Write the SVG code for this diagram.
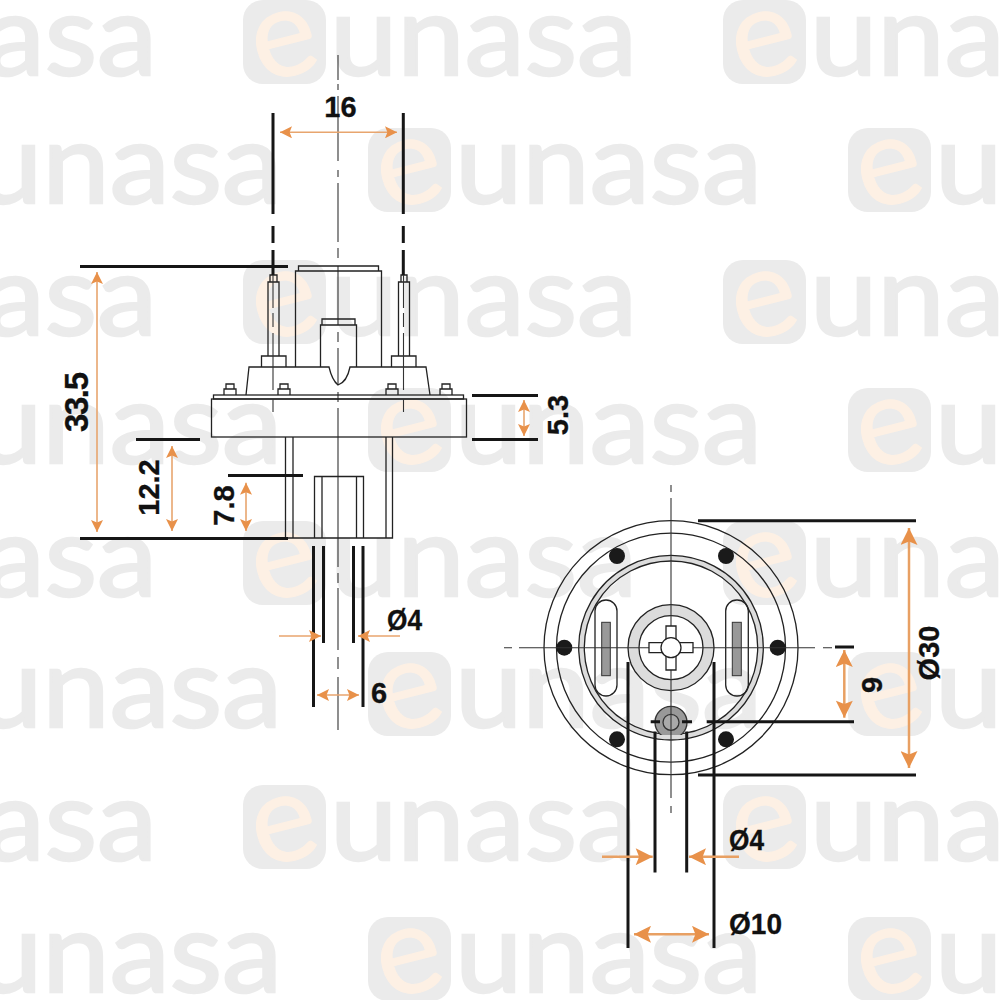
<svg xmlns="http://www.w3.org/2000/svg" xmlns:xlink="http://www.w3.org/1999/xlink" width="1000" height="1000" viewBox="0 0 1000 1000">
<style>
.wm{font-family:"Lato","Liberation Sans",sans-serif;font-size:112px;font-weight:400;fill:#ebebeb;stroke:#ebebeb;stroke-width:2.5}
.we{font-family:"Lato","Liberation Sans",sans-serif;font-size:124px;font-weight:400;fill:#fdf0e4;stroke:#fdf0e4;stroke-width:1}
.t{fill:none;stroke:#222;stroke-width:1.3}
.th{fill:none;stroke:#161616;stroke-width:3}
.c{fill:none;stroke:#333;stroke-width:1.1}
.or{fill:none;stroke:#e8a56e;stroke-width:1.6}
.orb{fill:none;stroke:#e8a063;stroke-width:2.5}
.l{font-family:"Liberation Sans",Arial,sans-serif;font-size:29px;font-weight:700;fill:#111;stroke:#111;stroke-width:.3}
</style>
<defs>
<marker id="a" viewBox="0 0 10 10" refX="10" refY="5" markerWidth="14" markerHeight="12" markerUnits="userSpaceOnUse" orient="auto-start-reverse"><path d="M0 0L10 5L0 10L2 5Z" fill="#e8914a"/></marker>
<marker id="b" viewBox="0 0 10 10" refX="10" refY="5" markerWidth="18" markerHeight="17" markerUnits="userSpaceOnUse" orient="auto-start-reverse"><path d="M0 0L10 5L0 10L2 5Z" fill="#e8914a"/></marker>
<g id="wm"><rect x="0" y="0" width="83" height="84" rx="20" fill="#ebebeb"/><text class="we" x="41" y="76" text-anchor="middle" transform="rotate(-14 41 42)">e</text><text class="wm" x="87" y="75" textLength="307" lengthAdjust="spacingAndGlyphs">unasa</text></g>
<clipPath id="hubclip"><rect x="640" y="690" width="62" height="45"/></clipPath>
</defs>
<rect width="1000" height="1000" fill="#fff"/>
<g id="watermark">
<use xlink:href="#wm" x="-237" y="0"/><use xlink:href="#wm" x="243" y="0"/><use xlink:href="#wm" x="723" y="0"/>
<use xlink:href="#wm" x="-112" y="128"/><use xlink:href="#wm" x="368" y="128"/><use xlink:href="#wm" x="848" y="128"/>
<use xlink:href="#wm" x="-237" y="260"/><use xlink:href="#wm" x="243" y="260"/><use xlink:href="#wm" x="723" y="260"/>
<use xlink:href="#wm" x="-112" y="388"/><use xlink:href="#wm" x="368" y="388"/><use xlink:href="#wm" x="848" y="388"/>
<use xlink:href="#wm" x="-237" y="521"/><use xlink:href="#wm" x="243" y="521"/><use xlink:href="#wm" x="723" y="521"/>
<use xlink:href="#wm" x="-112" y="652"/><use xlink:href="#wm" x="368" y="652"/><use xlink:href="#wm" x="848" y="652"/>
<use xlink:href="#wm" x="-237" y="785"/><use xlink:href="#wm" x="243" y="785"/><use xlink:href="#wm" x="723" y="785"/>
<use xlink:href="#wm" x="-112" y="917"/><use xlink:href="#wm" x="368" y="917"/><use xlink:href="#wm" x="848" y="917"/>
</g>
<g id="side-view">
<path class="c" d="M338 55V80M338 84V90M338 96V161M338 170V177M338 183V242M338 248V258M338 266V325M338 332V342M338 348V385M338 392V402M338 408V567M338 573V583M338 588V650M338 657V669M338 677V730"/>
<rect class="t" x="211.500" y="399" width="255" height="38"/>
<rect class="t" x="213.500" y="395" width="250" height="4"/>
<path class="t" d="M246 395L249 367H329Q332 380 338 385Q347 382 350 367H426L430 395"/>
<path class="t" d="M295.500 367V271H381.500V367M298.500 271V266H378.500V271"/>
<path class="t" d="M320.500 367V325H356.500V367M322 325V319H355V325"/>
<path class="t" d="M268 356V282H279V356M270 282V275H277V282M261.500 367V356H286V367"/>
<path class="t" d="M398.500 356V282H409.500V356M401 282V275H407V282M391.500 367V356H416V367"/>
<path class="t" d="M224 395V389H236V395M226 389V384H234V389M278 395V389H290V395M280 389V384H288V389M386 395V389H398V395M388 389V384H396V389M440 395V389H452V395M442 389V384H450V389"/>
<path class="t" d="M285.500 437V538H392.500V437M293 437V538M386 437V538"/>
<path class="t" d="M314.500 538V476.500H363.500V538M322 476.500V538M356.500 476.500V538"/>
<path class="c" d="M273 275V308M273 313V327M273 333V390M273 399V412M403.500 275V308M403.500 313V327M403.500 333V390M403.500 399V412"/>
</g>
<g id="front-view">
<circle class="t" cx="671" cy="647.700" r="127"/>
<circle class="t" cx="671" cy="647.700" r="114.500"/>
<path d="M671 555.400a92.300 92.300 0 1 0 .01 0ZM671 561a86.700 86.700 0 1 1 -.01 0Z" fill="#dcdcdc" fill-rule="evenodd" stroke="#222" stroke-width="1.300"/>
<rect class="t" x="595" y="600" width="22" height="96" rx="11"/>
<rect class="t" x="725.700" y="600" width="22.600" height="96" rx="11"/>
<rect x="601.700" y="622.300" width="8.600" height="53.400" fill="#999" stroke="#333"/>
<rect x="732.300" y="622.300" width="9" height="53.400" fill="#999" stroke="#333"/>
<circle cx="671" cy="647.700" r="43" fill="#dcdcdc" stroke="#222" stroke-width="1.300"/>
<circle cx="671" cy="647.700" r="32" fill="#fff" stroke="#222" stroke-width="1.300"/>
<g clip-path="url(#hubclip)"><circle cx="671" cy="722.300" r="16" fill="#999" stroke="#333" stroke-width="1.300"/><circle cx="671" cy="722.300" r="8" fill="#aaa" stroke="#333" stroke-width="1.300"/></g>
<g fill="#1a1a1a"><circle cx="564.300" cy="647.700" r="8"/><circle cx="777.700" cy="647.700" r="8"/><circle cx="617" cy="556" r="8"/><circle cx="726" cy="556" r="8"/><circle cx="617" cy="739.300" r="8"/><circle cx="726" cy="739.300" r="8"/></g>
<path class="c" d="M671 485V492M671 498V798M671 806V813"/>
<path class="c" d="M504 647.700H512M519 647.700H815M823 647.700H832"/>
<path d="M666 626H676V642.700H693V652.700H676V670H666V652.700H649V642.700H666Z" fill="#fff" stroke="#222" stroke-width="1.300"/>
<circle cx="671" cy="647.700" r="10" fill="#fff" stroke="#222" stroke-width="1.300"/>
</g>
<g id="connectors">
<path class="th" d="M273 113V214M273 226V243M273 250V275M403.300 113V214M403.300 226V243M403.300 250V275"/>
<path class="th" d="M80 266.500H288M80 538.500H288M136 439.500H200M228 475.500H303M472 395.500H538M472 439.500H538"/>
<path class="th" d="M313.500 546V707M323.500 546V643M353.500 546V643M363 546V707"/>
<path class="th" d="M628 662V948M714 662V948M655 731.500V872.500M686.700 731.500V872.500"/>
<path class="th" d="M698 520.700H916M698 775H916M706.700 721.700H854M650.700 721.700H660M682 721.700H692M835 647H854"/>
<path class="or" marker-start="url(#a)" marker-end="url(#a)" d="M280 132.300H397"/>
<path class="or" marker-start="url(#a)" marker-end="url(#a)" d="M97 272V532"/>
<path class="or" marker-start="url(#a)" marker-end="url(#a)" d="M172 446V531"/>
<path class="or" marker-start="url(#a)" marker-end="url(#a)" d="M246 482.700V531"/>
<path class="or" marker-start="url(#a)" marker-end="url(#a)" d="M524 400V436"/>
<path class="or" marker-end="url(#a)" d="M279 636H321"/>
<path class="or" marker-end="url(#a)" d="M400 636H358"/>
<path class="or" marker-start="url(#a)" marker-end="url(#a)" d="M317 695H359"/>
<path class="orb" marker-start="url(#b)" marker-end="url(#b)" d="M909 528V768"/>
<path class="orb" marker-start="url(#b)" marker-end="url(#b)" d="M844.300 650V717.700"/>
<path class="orb" marker-end="url(#b)" d="M602 856.700H652.700"/>
<path class="orb" marker-end="url(#b)" d="M739 856.700H689"/>
<path class="orb" marker-start="url(#b)" marker-end="url(#b)" d="M634 934.300H709"/>
</g>
<g id="labels">
<text class="l" x="340.500" y="116.500" text-anchor="middle">16</text>
<text class="l" style="font-size:33px" transform="translate(88 402) rotate(-90)" text-anchor="middle" textLength="60">33.5</text>
<text class="l" transform="translate(159.300 487.500) rotate(-90)" text-anchor="middle">12.2</text>
<text class="l" transform="translate(234 505.500) rotate(-90)" text-anchor="middle">7.8</text>
<text class="l" transform="translate(568 415) rotate(-90)" text-anchor="middle">5.3</text>
<text class="l" x="387" y="630" textLength="35" lengthAdjust="spacingAndGlyphs">Ø4</text>
<text class="l" x="371" y="703">6</text>
<text class="l" transform="translate(939 653) rotate(-90)" text-anchor="middle">Ø30</text>
<text class="l" transform="translate(881.700 685) rotate(-90)" text-anchor="middle">9</text>
<text class="l" x="729" y="850" textLength="35" lengthAdjust="spacingAndGlyphs">Ø4</text>
<text class="l" x="729" y="934" textLength="53" lengthAdjust="spacingAndGlyphs">Ø10</text>
</g>
</svg>
